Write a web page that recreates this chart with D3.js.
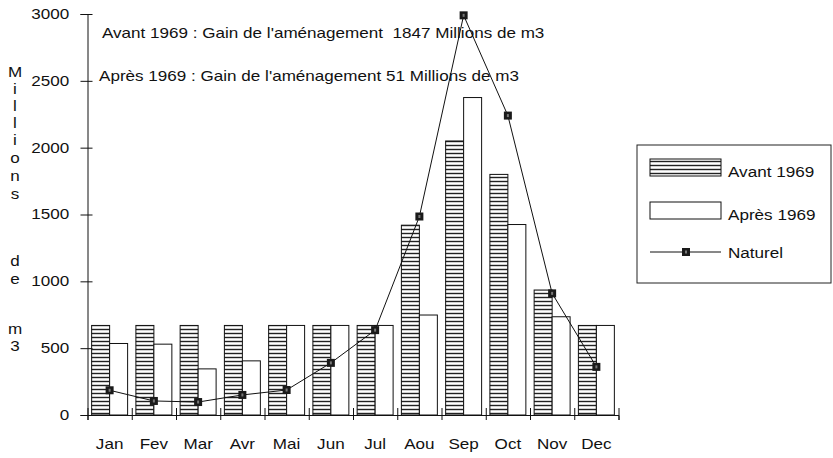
<!DOCTYPE html>
<html>
<head>
<meta charset="utf-8">
<script src="https://d3js.org/d3.v7.min.js"></script>
<style>
  body { margin: 0; background: #fff; }
  text { font-family: "Liberation Sans", Arial, sans-serif; fill: #111; }
</style>
</head>
<body>
<svg width="833" height="458" id="svg_chart"></svg>

<script>

var months = ["Jan", "Fev", "Mar", "Avr", "Mai", "Jun", "Jul", "Aou", "Sep", "Oct", "Nov", "Dec"];
var avant = [670, 670, 670, 670, 670, 670, 670, 1420, 2050, 1800, 935, 670];
var apres = [535, 530, 345, 405, 670, 670, 670, 748, 2375, 1425, 735, 670];
var naturel = [185, 105, 97, 150, 187, 390, 635, 1485, 2990, 2240, 910, 360];
var y_ticks = [0, 500, 1000, 1500, 2000, 2500, 3000];

var series_names = ["Avant 1969", "Après 1969", "Naturel"];
var notes = [
  "Avant 1969 : Gain de l'aménagement  1847 Millions de m3",
  "Après 1969 : Gain de l'aménagement 51 Millions de m3"
];
var ylabel = ["M", "i", "l", "l", "i", "o", "n", "s", "d", "e", "m", "3"];

var svg = d3.select("#svg_chart");
var sx = 1.22;   // scanned picture is stretched horizontally

var x0 = 87.5, x1 = 618.5, y0 = 415, y1 = 14;

var x = d3.scaleBand()
    .domain(months)
    .range([x0, x1])
    .paddingInner(0)
    .paddingOuter(0);

var x_sub = d3.scaleBand()
    .domain(["avant", "apres"])
    .range([0, x.bandwidth()])
    .paddingInner(0)
    .paddingOuter(0.23);

var x_lin = d3.scaleLinear()
    .domain([0, months.length])
    .range([x0, x1]);

var y = d3.scaleLinear()
    .domain([0, 3000])
    .range([y0, y1]);

// hatch pattern for "Avant 1969"
var defs = svg.append("defs");
var pat = defs.append("pattern")
    .attr("id", "hatch")
    .attr("patternUnits", "userSpaceOnUse")
    .attr("width", 8)
    .attr("height", 4);
pat.append("rect").attr("width", 8).attr("height", 4).attr("fill", "#fff");
pat.append("rect").attr("y", 0.8).attr("width", 8).attr("height", 1.4).attr("fill", "#222");

// bars
var bar_dat = [];
for (var i = 0; i < months.length; i++) {
  bar_dat.push({m: months[i], k: "avant", v: avant[i]});
  bar_dat.push({m: months[i], k: "apres", v: apres[i]});
}

svg.append("g")
  .selectAll("rect")
  .data(bar_dat)
  .enter()
  .append("rect")
    .attr("x", function(d) { return x(d.m) + x_sub(d.k); })
    .attr("y", function(d) { return y(d.v); })
    .attr("width", x_sub.bandwidth())
    .attr("height", function(d) { return y(0) - y(d.v); })
    .attr("fill", function(d) { return d.k == "avant" ? "url(#hatch)" : "#fff"; })
    .attr("stroke", "#111")
    .attr("stroke-width", 1);

// axes
var yAxis = d3.axisLeft(y).tickValues(y_ticks).tickFormat(d3.format("d")).tickSize(7).tickPadding(8);
var gy = svg.append("g")
    .attr("transform", "translate(" + x0 + ",0)")
    .call(yAxis);
gy.select(".domain").attr("stroke", "#111");
gy.selectAll(".tick line").attr("x1", 5).attr("stroke", "#111");
gy.selectAll(".tick text")
    .attr("font-size", 14)
    .attr("font-family", "Liberation Sans, Arial, sans-serif")
    .attr("fill", "#111")
    .attr("transform", "scale(" + sx + ",1)");

var xAxis = d3.axisBottom(x_lin).tickValues(d3.range(months.length + 1)).tickFormat("").tickSize(5);
var gx = svg.append("g")
    .attr("transform", "translate(0," + y0 + ")")
    .call(xAxis);
gx.select(".domain").attr("stroke", "#111");
gx.selectAll(".tick line").attr("y1", -7).attr("stroke", "#111");

svg.append("g")
  .selectAll("text")
  .data(months)
  .enter()
  .append("text")
    .attr("transform", function(d) { return "translate(" + (x(d) + x.bandwidth() / 2) + ",449) scale(" + sx + ",1)"; })
    .attr("text-anchor", "middle")
    .attr("font-size", 14)
    .text(function(d) { return d; });

// Naturel line
var line_nat = d3.line()
    .x(function(d, i) { return x(months[i]) + x.bandwidth() / 2; })
    .y(function(d) { return y(d); });

svg.append("path")
    .datum(naturel)
    .attr("fill", "none")
    .attr("stroke", "#111")
    .attr("stroke-width", 1)
    .attr("d", line_nat);

function marker(g, cx, cy) {
  g.append("rect")
      .attr("x", cx - 4).attr("y", cy - 4)
      .attr("width", 8).attr("height", 8)
      .attr("fill", "#1a1a1a");
  g.append("rect")
      .attr("x", cx - 1).attr("y", cy - 1.5)
      .attr("width", 2).attr("height", 3)
      .attr("fill", "#777");
}

var gm = svg.append("g");
naturel.forEach(function(v, i) {
  marker(gm, x(months[i]) + x.bandwidth() / 2, y(v));
});

// notes
svg.append("text")
    .attr("transform", "translate(102,38) scale(" + sx + ",1)")
    .attr("font-size", 14)
    .style("white-space", "pre")
    .text(notes[0]);
svg.append("text")
    .attr("transform", "translate(99,81) scale(" + sx + ",1)")
    .attr("font-size", 14)
    .style("white-space", "pre")
    .text(notes[1]);

// y label, stacked letters
var ylabel_y = [77, 94, 111, 128, 145, 163, 181, 199, 266, 284, 334, 351];
svg.append("g")
  .selectAll("text")
  .data(ylabel)
  .enter()
  .append("text")
    .attr("transform", function(d, i) { return "translate(15," + ylabel_y[i] + ") scale(" + sx + ",1)"; })
    .attr("text-anchor", "middle")
    .attr("font-size", 14)
    .text(function(d) { return d; });

// legend
var lg = svg.append("g");
lg.append("rect")
    .attr("x", 637).attr("y", 145)
    .attr("width", 194).attr("height", 138)
    .attr("fill", "#fff")
    .attr("stroke", "#222")
    .attr("stroke-width", 1);
lg.append("rect")
    .attr("x", 650).attr("y", 159).attr("width", 71).attr("height", 17)
    .attr("fill", "url(#hatch)").attr("stroke", "#111");
lg.append("rect")
    .attr("x", 650).attr("y", 202).attr("width", 71).attr("height", 17)
    .attr("fill", "#fff").attr("stroke", "#111");
lg.append("line")
    .attr("x1", 650).attr("x2", 721).attr("y1", 252).attr("y2", 252)
    .attr("stroke", "#111");
marker(lg, 686, 252);

var leg_y = [177, 220, 258];
lg.selectAll("text.leg")
  .data(series_names)
  .enter()
  .append("text")
    .attr("class", "leg")
    .attr("transform", function(d, i) { return "translate(728," + leg_y[i] + ") scale(" + (sx - 0.04) + ",1)"; })
    .attr("font-size", 14.5)
    .text(function(d) { return d; });

</script>
</body>
</html>
